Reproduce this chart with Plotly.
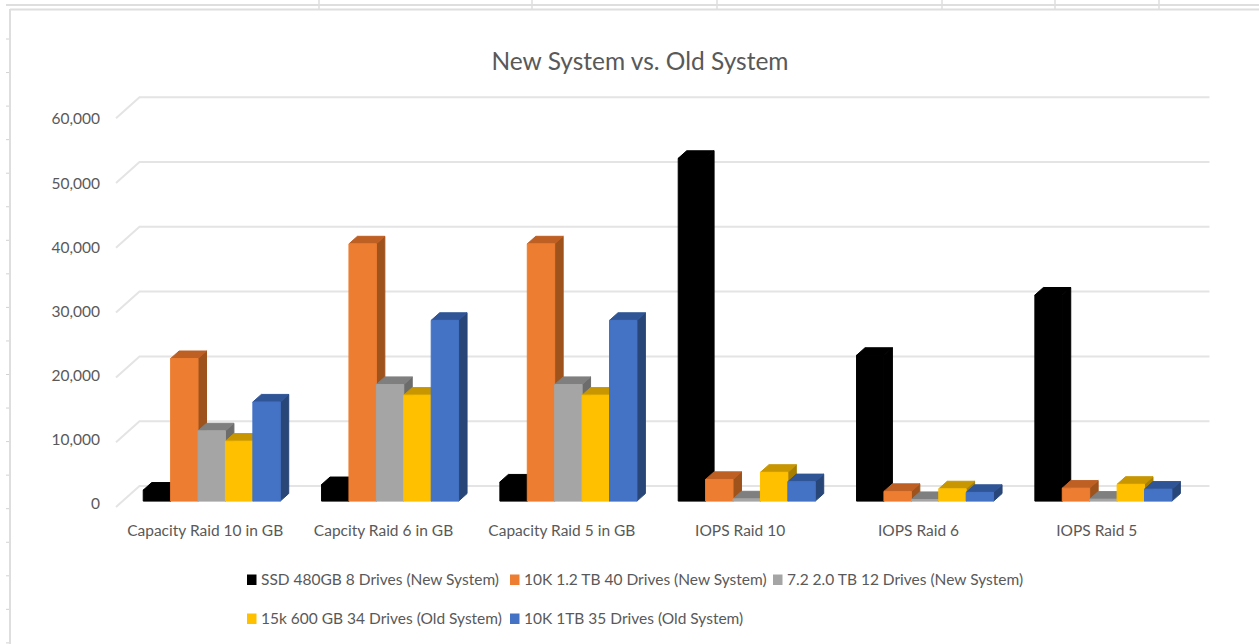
import plotly.graph_objects as go

# Chart values
categories = ["Capacity Raid 10 in GB", "Capcity Raid 6 in GB", "Capacity Raid 5 in GB",
              "IOPS Raid 10", "IOPS Raid 6", "IOPS Raid 5"]
ssd_480 = [1700, 2550, 2950, 52900, 22500, 31800]
sas_10k_12 = [22000, 39700, 39700, 3350, 1500, 2000]
sata_72 = [10850, 18000, 18000, 350, 250, 300]
sas_15k = [9250, 16350, 16350, 4450, 1900, 2600]
sas_10k_1 = [15300, 27900, 27900, 3000, 1350, 1850]
tick_values = [0, 10000, 20000, 30000, 40000, 50000, 60000]

# name, values, front colour, top colour, side colour, legend id, legend text x, legend row y
series = [
    ("SSD 480GB 8 Drives (New System)", ssd_480, "#000000", "#000000", "#000000", "legend", 261, 580),
    ("10K 1.2 TB 40 Drives (New System)", sas_10k_12, "#ED7D31", "#BE5F24", "#9E521C", "legend2", 524, 580),
    ("7.2 2.0 TB 12 Drives (New System)", sata_72, "#A5A5A5", "#7F7F7F", "#6C6C6C", "legend3", 787, 580),
    ("15k 600 GB 34 Drives (Old System)", sas_15k, "#FFC000", "#C79600", "#A67F00", "legend4", 261, 619),
    ("10K 1TB 35 Drives (Old System)", sas_10k_1, "#4472C4", "#2F5597", "#284678", "legend5", 524, 619),
]

W, H = 1259, 644
# Plot frame in pixels and the front plane of the oblique box
PX_L, PX_R, PX_T, PX_B = 101, 1230, 80, 519
FRONT_X0, CAT_PX = 116.0, 178.33
ZERO_PX, UNIT_PX = 507.0, 64.8 / 10000
DEPTH_DX, DEPTH_DY = 23.5, 21.0

x_range = [(PX_L - FRONT_X0) / CAT_PX, (PX_R - FRONT_X0) / CAT_PX]
y_range = [(ZERO_PX - PX_B) / UNIT_PX, (ZERO_PX - PX_T) / UNIT_PX]


def project(cat_x, value, depth):
    """Oblique projection: depth 0 is the front plane, depth 1 the back wall."""
    return (cat_x + depth * DEPTH_DX / CAT_PX, value + depth * DEPTH_DY / UNIT_PX)


def polygon(points):
    xs, ys = zip(*points)
    return list(xs) + [xs[0], None], list(ys) + [ys[0], None]


BAR_W = 0.1537
GAP = (1 - BAR_W * len(series)) / 2
D_FRONT, D_BACK = 0.28, 0.64

fig = go.Figure()

# Walls: gridlines run along the back wall and step down the side wall
grid_x, grid_y = [], []
for t in tick_values:
    for px, py in (project(0, t, 0), project(0, t, 1), project(6, t, 1)):
        grid_x.append(px)
        grid_y.append(py)
    grid_x.append(None)
    grid_y.append(None)
fig.add_trace(go.Scatter(x=grid_x, y=grid_y, mode="lines", showlegend=False, hoverinfo="skip",
                         line=dict(color="#E4E4E4", width=2)))

# Bars are painted left to right so each front face covers its neighbour's side
for s_i, (name, values, front, top, side, legend, _, _) in enumerate(series):
    faces = {"side": ([], []), "top": ([], []), "front": ([], [])}
    for c_i, v in enumerate(values):
        x0 = c_i + GAP + s_i * BAR_W
        x1 = x0 + BAR_W
        quads = {
            "front": [project(x0, 0, D_FRONT), project(x1, 0, D_FRONT),
                      project(x1, v, D_FRONT), project(x0, v, D_FRONT)],
            "top": [project(x0, v, D_FRONT), project(x1, v, D_FRONT),
                    project(x1, v, D_BACK), project(x0, v, D_BACK)],
            "side": [project(x1, 0, D_FRONT), project(x1, 0, D_BACK),
                     project(x1, v, D_BACK), project(x1, v, D_FRONT)],
        }
        for key, pts in quads.items():
            qx, qy = polygon(pts)
            faces[key][0].extend(qx)
            faces[key][1].extend(qy)
    for key, colour in (("side", side), ("top", top), ("front", front)):
        fig.add_trace(go.Scatter(x=faces[key][0], y=faces[key][1], mode="lines", fill="toself",
                                 fillcolor=colour, line=dict(color=colour, width=1),
                                 showlegend=False, legendgroup=name, hoverinfo="skip"))
    # Legend carries the text; its swatch is a shape, placed tight against the text
    fig.add_trace(go.Scatter(x=[None], y=[None], mode="markers", name=name, legend=legend,
                             legendgroup=name,
                             marker=dict(symbol="square", size=10, color="rgba(0,0,0,0)")))

# Carries the value axis labels, which sit slightly tighter than the gridlines
label_zero, label_unit = 504.0, 64.17 / 10000
fig.add_trace(go.Scatter(x=[None], y=[None], yaxis="y2", showlegend=False, hoverinfo="skip"))

# Worksheet cell borders around the chart
line = dict(color="#DEDEDE", width=2)
thin = dict(color="#DEDEDE", width=1.5)
shapes = [
    dict(type="line", xref="paper", yref="paper", x0=6 / W, x1=1, y0=1 - 5 / H, y1=1 - 5 / H, line=line),
    dict(type="line", xref="paper", yref="paper", x0=10 / W, x1=1, y0=1 - 9.5 / H, y1=1 - 9.5 / H, line=line),
    dict(type="line", xref="paper", yref="paper", x0=10 / W, x1=10 / W, y0=0, y1=1 - 9 / H, line=line),
]
for px in (319, 532, 717, 942, 1055, 1159):
    shapes.append(dict(type="line", xref="paper", yref="paper", x0=px / W, x1=px / W,
                       y0=1 - 9 / H, y1=1, line=thin))
for k in range(19):
    py = 39 + k * 33.55
    shapes.append(dict(type="line", xref="paper", yref="paper", x0=6 / W, x1=9 / W,
                       y0=1 - py / H, y1=1 - py / H, line=dict(color="#D2D2D2", width=1)))
for (_, _, front, _, _, _, text_px, row_px) in series:
    shapes.append(dict(type="rect", xref="paper", yref="paper", line=dict(width=0), fillcolor=front,
                       x0=(text_px - 14) / W, x1=(text_px - 4.5) / W,
                       y0=1 - (row_px - 5.5) / H, y1=1 - (row_px + 5) / H))

FONT = "Lato, Carlito, sans-serif"
INK = "#595959"


def legend_at(text_px, row_px):
    """One legend box per entry, so columns and rows can sit at their own pixel spots."""
    return dict(orientation="h", xanchor="left", yanchor="middle", x=(text_px - 40) / W, y=1 - row_px / H,
                bgcolor="rgba(0,0,0,0)",
                font=dict(family=FONT, size=15.5, color=INK), itemclick=False, itemdoubleclick=False)


legends = {s[5]: legend_at(s[6], s[7] - 1) for s in series}

fig.update_layout(
    width=W, height=H, autosize=False,
    margin=dict(l=0, r=0, t=0, b=0),
    paper_bgcolor="white", plot_bgcolor="rgba(0,0,0,0)",
    font=dict(family=FONT, color=INK),
    title=dict(text="New System vs. Old System", x=640 / W, xanchor="center", y=1 - 61 / H, yanchor="middle",
               font=dict(family=FONT, size=24.5, color=INK)),
    xaxis=dict(domain=[PX_L / W, PX_R / W], range=x_range, showgrid=False, zeroline=False, showline=False,
               tickmode="array", tickvals=[i + 0.5 for i in range(len(categories))], ticktext=categories,
               ticks="", tickfont=dict(family=FONT, size=15.5, color=INK), ticklabelstandoff=0),
    yaxis=dict(domain=[1 - PX_B / H, 1 - PX_T / H], range=y_range, showgrid=False, zeroline=False,
               showline=False, showticklabels=False, ticks=""),
    yaxis2=dict(domain=[1 - PX_B / H, 1 - PX_T / H], overlaying="y", anchor="x", side="left",
                range=[(label_zero - PX_B) / label_unit, (label_zero - PX_T) / label_unit],
                showgrid=False, zeroline=False, showline=False, ticks="",
                tickmode="array", tickvals=tick_values, tickformat=",d",
                tickfont=dict(family=FONT, size=15.5, color=INK)),
    shapes=shapes,
    **legends,
)

fig.write_html("out.html")
